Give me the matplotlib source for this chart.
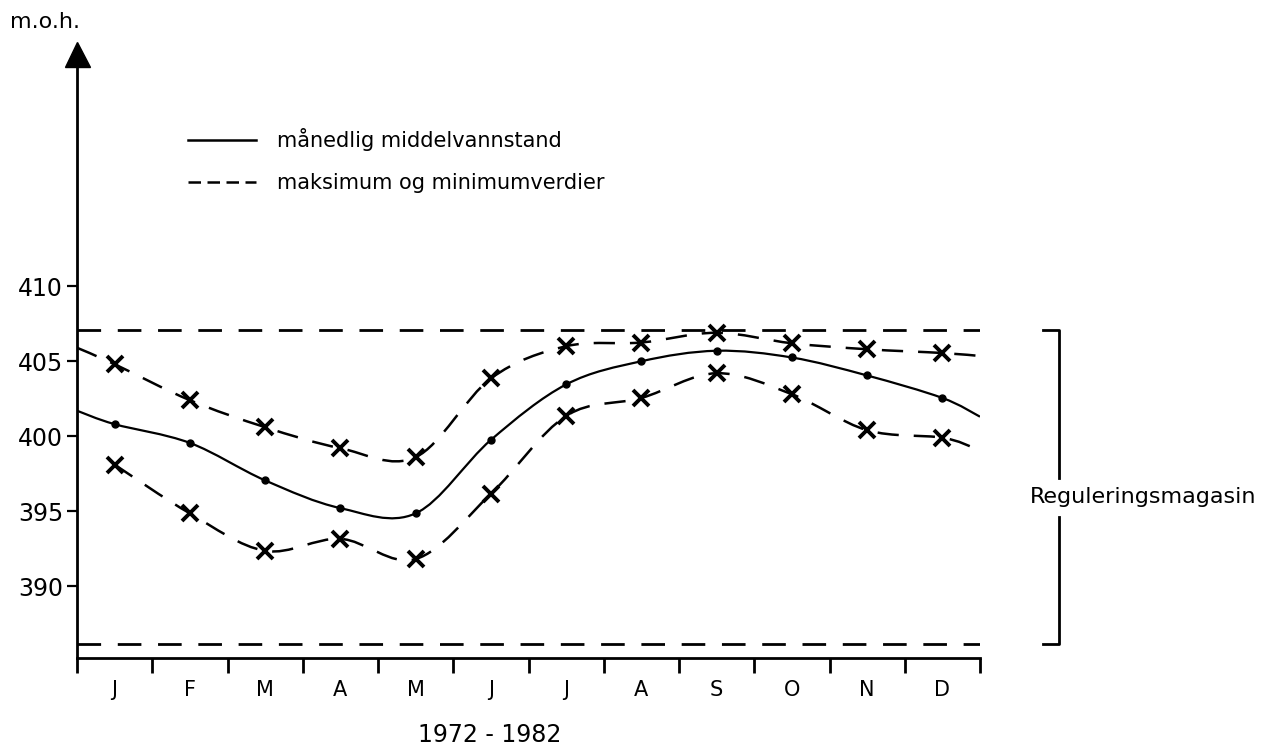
import numpy as np
import matplotlib
matplotlib.use("Agg")
import matplotlib.pyplot as plt
from matplotlib.path import Path
from matplotlib.patches import PathPatch
from matplotlib.lines import Line2D

plt.rcParams["font.family"] = ["DejaVu Sans"]

# monthly water level (m.o.h.)
months = ["J", "F", "M", "A", "M", "J", "J", "A", "S", "O", "N", "D"]
mean_level = [400.8, 399.55, 397.05, 395.2, 394.85, 399.75,
              403.45, 405.0, 405.7, 405.25, 404.05, 402.55]
max_level = [404.8, 402.4, 400.6, 399.2, 398.6, 403.85,
             406.0, 406.25, 406.9, 406.2, 405.8, 405.55]
min_level = [398.1, 394.85, 392.35, 393.15, 391.8, 396.15,
             401.35, 402.55, 404.2, 402.8, 400.4, 399.9]
# curve levels at the start / end of the year
mean_ends = (401.7, 401.3)
max_ends = (405.9, 405.35)
min_end = 399.2
# highest and lowest regulated level
hrv = 407.1
lrv = 386.15

DASH = (0, (8.5, 6))


def smooth_path(xs, ys):
    # Catmull-Rom through the points, drawn as cubic Bezier segments
    pts = np.column_stack([xs, ys])
    verts = [pts[0]]
    codes = [Path.MOVETO]
    for i in range(len(pts) - 1):
        p0 = pts[i - 1] if i > 0 else pts[i]
        p1, p2 = pts[i], pts[i + 1]
        p3 = pts[i + 2] if i + 2 < len(pts) else pts[i + 1]
        verts += [p1 + (p2 - p0) / 6, p2 - (p3 - p1) / 6, p2]
        codes += [Path.CURVE4] * 3
    return Path(verts, codes)


fig = plt.figure(figsize=(12.79, 7.53), dpi=100)
ax = fig.add_axes([77 / 1279, 95 / 753, 903 / 1279, 604 / 753])
ax.set_xlim(0, 12)
ax.set_ylim(385.2, 425.5)

mid = np.arange(12) + 0.5

# mean level curve
xs = np.concatenate([[0], mid, [12]])
ax.add_patch(PathPatch(smooth_path(xs, [mean_ends[0]] + mean_level + [mean_ends[1]]),
                       fill=False, lw=1.6, color="k"))
ax.plot(mid, mean_level, "o", ms=5, color="k")

# max curve
ax.add_patch(PathPatch(smooth_path(xs, [max_ends[0]] + max_level + [max_ends[1]]),
                       fill=False, lw=1.8, color="k", linestyle=DASH))
ax.plot(mid, max_level, "x", ms=11, mew=2.8, color="k")

# min curve
xs_min = np.concatenate([mid, [11.93]])
ax.add_patch(PathPatch(smooth_path(xs_min, min_level + [min_end]),
                       fill=False, lw=1.8, color="k", linestyle=DASH))
ax.plot(mid, min_level, "x", ms=11, mew=2.8, color="k")

# regulation limits
ax.axhline(hrv, color="k", lw=2, linestyle=DASH)
ax.axhline(lrv, color="k", lw=2, linestyle=DASH)

# axes styling
for side in ["top", "right"]:
    ax.spines[side].set_visible(False)
for side in ["left", "bottom"]:
    ax.spines[side].set_linewidth(2)
ax.plot(0, 1, marker="^", ms=18, color="k", transform=ax.transAxes, clip_on=False)

ax.set_yticks([390, 395, 400, 405, 410])
ax.tick_params(axis="y", length=7, width=1.6, pad=3, labelsize=17)

ax.set_xticks(range(13))
ax.set_xticklabels([])
ax.tick_params(axis="x", which="major", direction="out", length=11, width=2)
ax.set_xticks(mid, minor=True)
ax.set_xticklabels(months, minor=True)
ax.tick_params(axis="x", which="minor", length=0, pad=16, labelsize=15)

# bracket for the regulation range
cy = (hrv + lrv) / 2 - 0.7
ax.plot([12.84, 13.05, 13.05], [hrv, hrv, cy + 1.3], color="k", lw=2, clip_on=False)
ax.plot([12.84, 13.05, 13.05], [lrv, lrv, cy - 1.3], color="k", lw=2, clip_on=False)
ax.text(14.17, cy, "Reguleringsmagasin", ha="center", va="center", fontsize=16,
        clip_on=False)

fig.text(10 / 1279, 1 - 22 / 753, "m.o.h.", ha="left", va="center", fontsize=16)
fig.text(490 / 1279, 1 - 735 / 753, "1972 - 1982", ha="center", va="center", fontsize=17)

handles = [Line2D([], [], color="k", lw=1.8),
           Line2D([], [], color="k", lw=1.8, linestyle=(0, (5, 2.6)))]
fig.legend(handles, ["månedlig middelvannstand", "maksimum og minimumverdier"],
           loc="upper left", bbox_to_anchor=(188 / 1279, 1 - 128 / 753),
           frameon=False, fontsize=15, handlelength=3.27, handletextpad=1.0,
           labelspacing=1.05, borderpad=0, borderaxespad=0)

fig.savefig("out.png", dpi=100)
